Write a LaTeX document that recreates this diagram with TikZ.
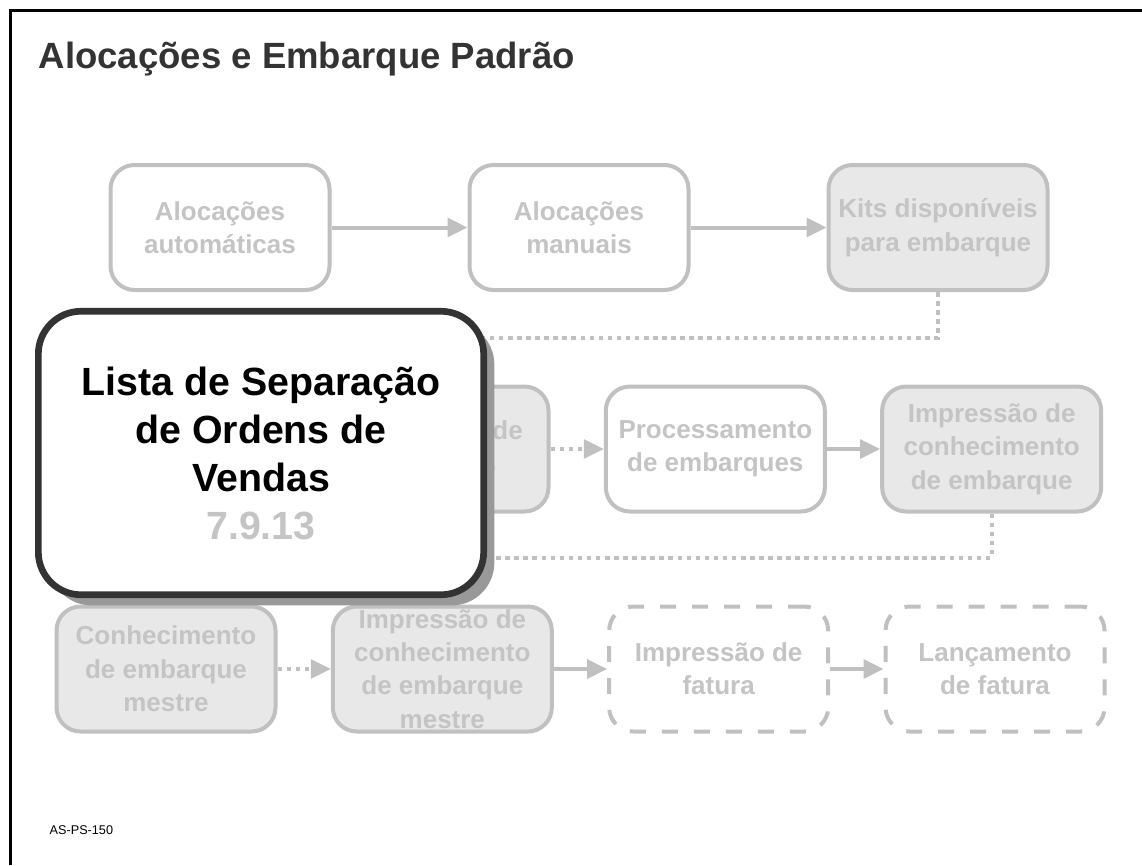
\documentclass[tikz,border=0pt]{standalone}
\usepackage{fontspec}
\setmainfont{Liberation Sans}
\usetikzlibrary{arrows.meta,positioning,shadows}
\definecolor{LineGray}{HTML}{C0C0C0}
\definecolor{TextGray}{HTML}{C4C4C4}
\definecolor{PaleFill}{HTML}{E8E8E8}
\definecolor{InkGray}{HTML}{333333}
\definecolor{ShadeGray}{HTML}{999999}

\begin{document}
\begin{tikzpicture}[x=0.75pt,y=-0.75pt,node distance=40pt,
    box/.style={draw=LineGray,line width=3pt,rounded corners=18pt,fill=white,
                minimum width=164.25pt,minimum height=93.75pt,inner sep=0pt,
                align=center,text=TextGray,font=\fontsize{19.5pt}{25pt}\selectfont\bfseries},
    greybox/.style={box,fill=PaleFill},
    dashbox/.style={box,dash pattern=on 12pt off 12pt},
    bigbox/.style={draw=InkGray,line width=5pt,rounded corners=32pt,fill=white,
                minimum width=334pt,minimum height=212.6pt,align=center,
                font=\fontsize{29.5pt}{36pt}\selectfont\bfseries,
                drop shadow={shadow xshift=8pt,shadow yshift=-8pt,fill=ShadeGray,opacity=1}},
    arr/.style={-{Triangle[length=15pt,width=14pt]},line width=3pt,LineGray},
    dotarr/.style={arr,dash pattern=on 3.4pt off 3.4pt},
    dotline/.style={line width=3pt,LineGray,dash pattern=on 3.4pt off 3.4pt}]
    \useasboundingbox (0,0) rectangle (1142,865);
    \draw[line width=2.25pt] (10,865) -- (10,10.5) -- (1142,10.5);
    \node[anchor=base west,text=InkGray,font=\fontsize{27.4pt}{32pt}\selectfont\bfseries] (title) at (34,68) {Alocações e Embarque Padrão};
    % first row
    \node[box] (alocaut) at (220,227.5) {Alocações\\automáticas};
    \node[box,right=102pt of alocaut] (alocman) {Alocações\\manuais};
    \node[greybox,right=102pt of alocman] (kits) {Kits disponíveis\\para embarque};
    % second row
    \node[greybox] (impetiq) at (439,449) {Impressão de\\etiquetas};
    \node[box,right=of impetiq] (procemb) {Processamento\\de embarques};
    \node[greybox,right=of procemb] (impconh) {Impressão de\\conhecimento\\de embarque};
    % third row
    \node[greybox] (conhmestre) at (166,669) {Conhecimento\\de embarque\\mestre};
    \node[greybox,right=of conhmestre] (impmestre) {Impressão de\\conhecimento\\de embarque\\mestre};
    \node[dashbox,right=of impmestre] (impfat) {Impressão de\\fatura};
    \node[dashbox,right=of impfat] (lancfat) {Lançamento\\de fatura};
    \draw[arr] (alocaut) -- (alocman);
    \draw[arr] (alocman) -- (kits);
    \draw[dotarr] (impetiq) -- (procemb);
    \draw[arr] (procemb) -- (impconh);
    \draw[dotarr] (conhmestre) -- (impmestre);
    \draw[arr] (impmestre) -- (impfat);
    \draw[arr] (impfat) -- (lancfat);
    \draw[dotline] (kits.south) -- ++(0,46) -| (impetiq.north);
    \draw[dotline] (impconh.south) -- ++(0,44) -| (conhmestre.north);
    % highlighted topic
    \node[bigbox] (picklist) at (261,453) {Lista de Separação\\de Ordens de\\Vendas\\\textcolor{TextGray}{7.9.13}};
    \node[anchor=base west,font=\fontsize{9.5pt}{11pt}\selectfont] (code) at (45,834) {AS-PS-150};
  \end{tikzpicture}
\end{document}
